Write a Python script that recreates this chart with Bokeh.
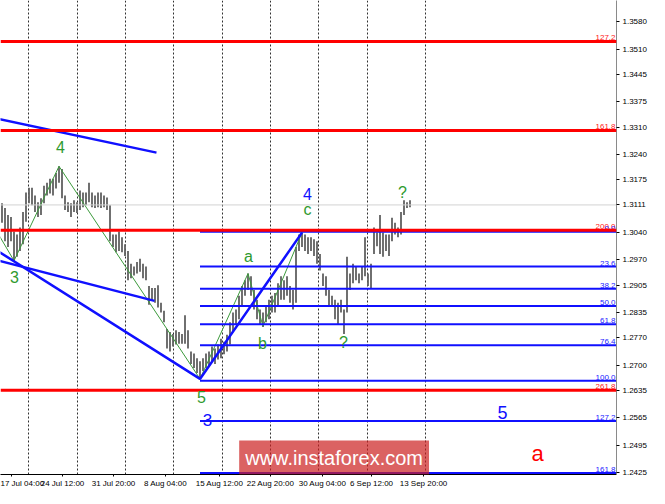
from bokeh.plotting import figure
from bokeh.models import Range1d, FixedTicker, Span, Label, PrintfTickFormatter
from bokeh.embed import file_html
from bokeh.resources import INLINE

# ---------------- data (GBP/USD H4) ----------------
bar_high = [
    1.3115, 1.3103, 1.3085, 1.3080, 1.3043, 1.3035, 1.3053, 1.3093, 1.3143, 1.3155,
    1.3155, 1.3135, 1.3118, 1.3128, 1.3160, 1.3168, 1.3178, 1.3178, 1.3193, 1.3210,
    1.3203, 1.3135, 1.3118, 1.3115, 1.3123, 1.3118, 1.3148, 1.3143, 1.3143, 1.3168,
    1.3143, 1.3135, 1.3143, 1.3143, 1.3135, 1.3130, 1.3110, 1.3035, 1.3035, 1.3043,
    1.3028, 1.3010, 1.2993, 1.2960, 1.2953, 1.2965, 1.2973, 1.2960, 1.2953, 1.2903,
    1.2898, 1.2898, 1.2905, 1.2860, 1.2840, 1.2793, 1.2785, 1.2780, 1.2790, 1.2785,
    1.2780, 1.2828, 1.2790, 1.2735, 1.2730, 1.2718, 1.2710, 1.2718, 1.2730, 1.2735,
    1.2748, 1.2743, 1.2753, 1.2768, 1.2760, 1.2778, 1.2810, 1.2835, 1.2843, 1.2878,
    1.2903, 1.2918, 1.2935, 1.2928, 1.2893, 1.2868, 1.2843, 1.2835, 1.2853, 1.2868,
    1.2878, 1.2885, 1.2910, 1.2928, 1.2918, 1.2928, 1.2903, 1.2893, 1.3003, 1.3035,
    1.3040, 1.3035, 1.3028, 1.3028, 1.3023, 1.3018, 1.2985, 1.2935, 1.2928, 1.2893,
    1.2878, 1.2868, 1.2860, 1.2868, 1.2843, 1.2978, 1.2935, 1.2960, 1.2953, 1.2935,
    1.2953, 1.3028, 1.2935, 1.2960, 1.3053, 1.3040, 1.3085, 1.3040, 1.3035, 1.3035,
    1.3078, 1.3065, 1.3053, 1.3093, 1.3123, 1.3118, 1.3123,
]
bar_low = [
    1.3065, 1.3018, 1.3003, 1.3018, 1.2968, 1.2978, 1.2993, 1.3010, 1.3068, 1.3115,
    1.3110, 1.3093, 1.3080, 1.3085, 1.3115, 1.3135, 1.3140, 1.3135, 1.3153, 1.3168,
    1.3128, 1.3098, 1.3093, 1.3080, 1.3093, 1.3090, 1.3098, 1.3105, 1.3110, 1.3118,
    1.3105, 1.3103, 1.3105, 1.3103, 1.3105, 1.3098, 1.3018, 1.3003, 1.2990, 1.2993,
    1.2990, 1.2980, 1.2918, 1.2923, 1.2930, 1.2935, 1.2940, 1.2923, 1.2918, 1.2855,
    1.2865, 1.2860, 1.2848, 1.2835, 1.2810, 1.2743, 1.2735, 1.2748, 1.2753, 1.2755,
    1.2755, 1.2755, 1.2743, 1.2703, 1.2693, 1.2680, 1.2665, 1.2685, 1.2693, 1.2698,
    1.2710, 1.2703, 1.2715, 1.2718, 1.2728, 1.2735, 1.2753, 1.2785, 1.2803, 1.2818,
    1.2853, 1.2878, 1.2893, 1.2878, 1.2843, 1.2818, 1.2803, 1.2798, 1.2810, 1.2818,
    1.2835, 1.2835, 1.2853, 1.2868, 1.2868, 1.2878, 1.2860, 1.2843, 1.2860, 1.2993,
    1.3003, 1.2993, 1.2985, 1.2993, 1.2980, 1.2960, 1.2943, 1.2903, 1.2878, 1.2853,
    1.2853, 1.2818, 1.2805, 1.2835, 1.2780, 1.2835, 1.2893, 1.2910, 1.2918, 1.2910,
    1.2918, 1.2928, 1.2903, 1.2898, 1.2985, 1.3005, 1.2985, 1.2978, 1.2993, 1.2980,
    1.3018, 1.3035, 1.3028, 1.3035, 1.3085, 1.3103, 1.3105,
]
bar_x = [i + 0.5 for i in range(len(bar_high))]
current_price = 1.3111

# axis ticks
y_ticks = [1.3580, 1.3510, 1.3445, 1.3375, 1.3310, 1.3240, 1.3175, 1.3111, 1.3040, 1.2970,
           1.2905, 1.2835, 1.2770, 1.2700, 1.2635, 1.2565, 1.2495, 1.2425]
x_tick_pos = [3.67, 20.67, 37.67, 55.0, 73.0, 90.0, 107.33, 123.67, 141.0]
x_tick_labels = ["17 Jul 04:00", "24 Jul 12:00", "31 Jul 20:00", "8 Aug 04:00",
                 "15 Aug 12:00", "22 Aug 20:00", "30 Aug 04:00", "6 Sep 12:00",
                 "13 Sep 20:00"]
x_grid_pos = [9.33, 25.67, 41.67, 57.67, 74.0, 90.0, 106.0, 122.33, 141.67]

# Fibonacci levels
red_fib_names = ["127.2", "161.8", "200.0", "261.8"]
red_fib_prices = [1.3530, 1.3302, 1.3046, 1.2636]
blue_fib_names = ["0.0", "23.6", "38.2", "50.0", "61.8", "76.4", "100.0", "127.2", "161.8"]
blue_fib_prices = [1.3042, 1.2953, 1.2896, 1.2852, 1.2805, 1.2751, 1.2660, 1.2557, 1.2424]
blue_fib_start = 66.5

# trend lines (bar index, price)
trend_top_x = [-3.0, 52.0]
trend_top_y = [1.3335, 1.3245]
trend_mid_x = [-3.0, 51.33]
trend_mid_y = [1.2973, 1.2865]
trend_wave_x = [-3.0, 66.5, 100.5]
trend_wave_y = [1.3003, 1.2665, 1.3040]

# green zigzag wave
zig_x = [-1.0, 4.5, 19.5, 66.5, 82.5, 87.5, 100.5]
zig_y = [1.3040, 1.2968, 1.3210, 1.2665, 1.2935, 1.2800, 1.3040]

# wave labels: text, bar x, price, colour, size
wave_labels = [
    ("4", 20.0, 1.3260, "#2f9a2f", "16px"),
    ("3", 4.67, 1.2925, "#2f9a2f", "16px"),
    ("5", 67.0, 1.2618, "#2f9a2f", "16px"),
    ("a", 82.67, 1.2980, "#2f9a2f", "16px"),
    ("b", 87.33, 1.2755, "#2f9a2f", "16px"),
    ("c", 102.33, 1.3098, "#2f9a2f", "16px"),
    ("?", 114.33, 1.2758, "#2f9a2f", "16px"),
    ("?", 134.0, 1.3143, "#2f9a2f", "16px"),
    ("4", 102.33, 1.3140, "#1010ff", "16px"),
    ("3", 69.0, 1.2560, "#1010ff", "17px"),
    ("5", 167.33, 1.2578, "#1010ff", "18px"),
    ("a", 179.0, 1.2475, "#ff0000", "22px"),
]
watermark_text = "www.instaforex.com"

# ---------------- figure ----------------
FW, FH = 616, 474
X0, X1 = 0.0, FW / 3
p = figure(frame_width=FW, frame_height=FH, x_range=Range1d(X0, X1), y_range=Range1d(1.2420, 1.3635),
           output_backend="svg", toolbar_location=None, min_border=0,
           y_axis_location="right")
p.outline_line_color = None
p.background_fill_color = "white"
p.border_fill_color = "white"

# axes
ya = p.yaxis[0]
ya.ticker = FixedTicker(ticks=y_ticks)
ya.formatter = PrintfTickFormatter(format="%.4f")
ya.axis_line_color = "#8a8a8a"
ya.major_tick_line_color = "#000000"
ya.major_tick_out = 3
ya.major_tick_in = 0
ya.minor_tick_line_color = None
ya.major_label_text_font_size = "8px"
ya.major_label_text_font = "Liberation Sans"
ya.major_label_text_color = "#000000"
ya.major_label_standoff = 3

xa = p.xaxis[0]
xa.ticker = FixedTicker(ticks=x_tick_pos)
xa.major_label_overrides = {pos: lab for pos, lab in zip(x_tick_pos, x_tick_labels)}
xa.axis_line_color = "#000000"
xa.major_tick_line_color = "#000000"
xa.major_tick_out = 2
xa.major_tick_in = 0
xa.minor_tick_line_color = None
xa.major_label_text_font_size = "8px"
xa.major_label_text_font = "Liberation Sans"
xa.major_label_text_color = "#000000"
xa.major_label_standoff = 2

p.ygrid.visible = False
p.xgrid.ticker = FixedTicker(ticks=x_grid_pos)
p.xgrid.grid_line_color = "#303030"
p.xgrid.grid_line_dash = "2 2"
p.xgrid.grid_line_width = 1

# current price line
p.add_layout(Span(location=current_price, dimension="width", line_color="#d2d2d2", line_width=1))

# price bars
p.segment(x0=bar_x, y0=bar_low, x1=bar_x, y1=bar_high, line_color="#606060", line_width=1.8)

# green zigzag
p.line(zig_x, zig_y, line_color="#3c9a3c", line_width=1)

# blue fib lines
p.segment(x0=[blue_fib_start] * len(blue_fib_prices), y0=blue_fib_prices,
          x1=[X1 + 5] * len(blue_fib_prices), y1=blue_fib_prices,
          line_color="#1010ff", line_width=2)

# red levels
for lvl in red_fib_prices:
    p.add_layout(Span(location=lvl, dimension="width", line_color="#ff0000", line_width=3))

# blue trend lines
for tx, ty in [(trend_top_x, trend_top_y), (trend_mid_x, trend_mid_y), (trend_wave_x, trend_wave_y)]:
    p.line(tx, ty, line_color="#1010ff", line_width=2.5)

# fib level texts
p.text(x=[X1] * len(red_fib_prices), y=red_fib_prices, text=red_fib_names,
       text_align="right", text_baseline="bottom", text_font_size="8px",
       text_color="#ff2020", x_offset=-1, y_offset=-1)
p.text(x=[X1] * len(blue_fib_prices), y=blue_fib_prices, text=blue_fib_names,
       text_align="right", text_baseline="bottom", text_font_size="8px",
       text_color="#2020ff", x_offset=-1, y_offset=-1)

# wave labels
for txt, lx, ly, col, sz in wave_labels:
    p.add_layout(Label(x=lx, y=ly, text=txt, text_color=col, text_font_size=sz,
                       text_font="Liberation Sans", text_align="center", text_baseline="middle"))

# watermark (kept inside the plot frame so that it is not clipped)
p.add_layout(Label(x=111.2, y=1.2420, y_offset=17, text=watermark_text, text_color="white",
                   text_font_size="20px", text_font="Liberation Sans", text_align="center",
                   text_baseline="middle", background_fill_color="#cc2020",
                   background_fill_alpha=0.7, padding=6))

open("out.html", "w").write(file_html(p, INLINE))
